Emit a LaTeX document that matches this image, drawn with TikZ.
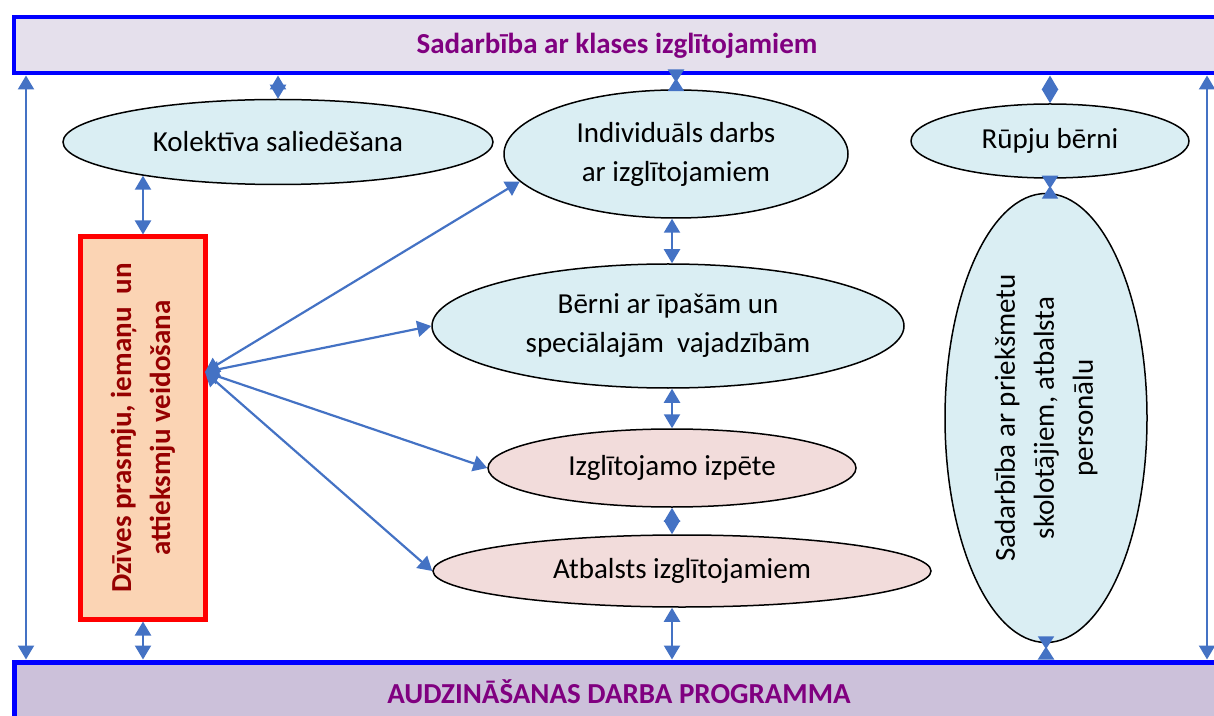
\documentclass[tikz,border=0pt]{standalone}
\usepackage{fontspec}
\setmainfont{Carlito}
\usepackage{tikz}
\usetikzlibrary{arrows.meta,shapes.geometric,calc}
\definecolor{linkblue}{HTML}{4472C4}
\definecolor{bandblue}{HTML}{0000FF}
\definecolor{bandtop}{HTML}{E5E0EC}
\definecolor{bandbot}{HTML}{CCC1DA}
\definecolor{titleplum}{HTML}{800080}
\definecolor{paleblue}{HTML}{DAEEF3}
\definecolor{palepink}{HTML}{F2DCDB}
\definecolor{peach}{HTML}{FBD4B4}
\definecolor{darkred}{HTML}{960000}

\begin{document}
\begin{tikzpicture}[x=0.5pt, y=-0.5pt]
        \tikzset{band/.style = {shape=rectangle, draw=bandblue, fill=#1, text=titleplum, font=\fontsize{14.5}{19.5}\selectfont\bfseries}}
        \tikzset{blob/.style = {shape=ellipse, draw, line width=0.75pt, fill=#1, inner sep=0pt, align=center, font=\fontsize{14.5}{19.5}\selectfont}}
        \tikzset{link/.style = {draw=linkblue, line width=1.1pt, {Triangle[length=7pt,width=8pt]}-{Triangle[length=7pt,width=8pt]}}}
        \tikzset{pinch/.style = {draw=linkblue, line width=1.1pt, {Triangle[length=6.5pt,width=8pt,reversed]}-{Triangle[length=6.5pt,width=8pt,reversed]}}}
        \useasboundingbox (0,0) rectangle (1214,716);
        \clip (0,0) rectangle (1214,716);
        % bands
        \node[band=bandtop, line width=2pt, minimum width=603pt, minimum height=28pt] (top) at (617,45.5) {Sadarbība ar klases izglītojamiem};
        \node[band=bandbot, line width=2.5pt, minimum width=605pt, minimum height=30pt] (bot) at (619,692) {AUDZINĀŠANAS DARBA PROGRAMMA};
        % vertices
        \node[blob=paleblue, minimum width=215pt, minimum height=42.5pt] (kol) at (278,142) {Kolektīva saliedēšana};
        \node[blob=paleblue, minimum width=172pt, minimum height=64pt] (ind) at (676,154) {Individuāls darbs\\ar izglītojamiem};
        \node[blob=paleblue, minimum width=139pt, minimum height=37pt] (rup) at (1050,141) {Rūpju bērni};
        \node[blob=paleblue, minimum width=236pt, minimum height=62pt] (bern) at (668,326) {Bērni ar īpašām un\\speciālajām~ vajadzībām};
        \node[blob=palepink, minimum width=184pt, minimum height=39pt] (izp) at (672,468) {Izglītojamo izpēte};
        \node[blob=palepink, minimum width=249pt, minimum height=36pt] (atb) at (682,571) {Atbalsts izglītojamiem};
        \node[blob=paleblue, rotate=90, minimum width=224.5pt, minimum height=101pt] (sad) at (1046,418) {Sadarbība ar priekšmetu\\skolotājiem, atbalsta\\personālu};
        \node[shape=rectangle, draw=red, line width=2.5pt, fill=peach, rotate=90, minimum width=191pt, minimum height=62.5pt, align=center, text=darkred, font=\fontsize{14.5}{19.5}\selectfont\bfseries] (box) at (143,428) {Dzīves prasmju, iemaņu~ un\\attieksmju veidošana};
        \coordinate (hub) at ($(box.south)+(-3,-56)$);
        \coordinate (lft) at (26,0);
        \coordinate (rgt) at (1207,0);
        %edges
        \draw[link] (lft |- top.south) -- (lft |- bot.north);
        \draw[link] (rgt |- top.south) -- (rgt |- bot.north);
        \draw[link] (kol.north |- top.south) -- (kol.north);
        \draw[pinch] ($(ind.north |- top.south)+(0,-6)$) -- ($(ind.north)+(0,2)$);
        \draw[link] (rup.north |- top.south) -- (rup.north);
        \draw[link] (box.east) -- (box.east |- kol.194);
        \draw[link] (box.west) -- (box.west |- bot.north);
        \draw[link] (hub) -- (ind.190);
        \draw[link] (hub) -- (bern.west);
        \draw[link] (hub) -- (izp.west);
        \draw[link] (hub) -- (atb.west);
        \draw[link] (ind.south -| izp.north) -- (izp.north |- bern.north);
        \draw[link] (bern.south -| izp.north) -- (izp.north);
        \draw[link] (izp.south) -- (izp.south |- atb.north);
        \draw[link] (atb.south -| izp.south) -- (izp.south |- bot.north);
        \draw[pinch] ($(rup.south)+(0,-3)$) -- ($(rup.south |- sad.east)+(0,6)$);
        \draw[pinch] ($(sad.west)+(0,-7)$) -- (sad.west |- bot.north);
\end{tikzpicture}
\end{document}
